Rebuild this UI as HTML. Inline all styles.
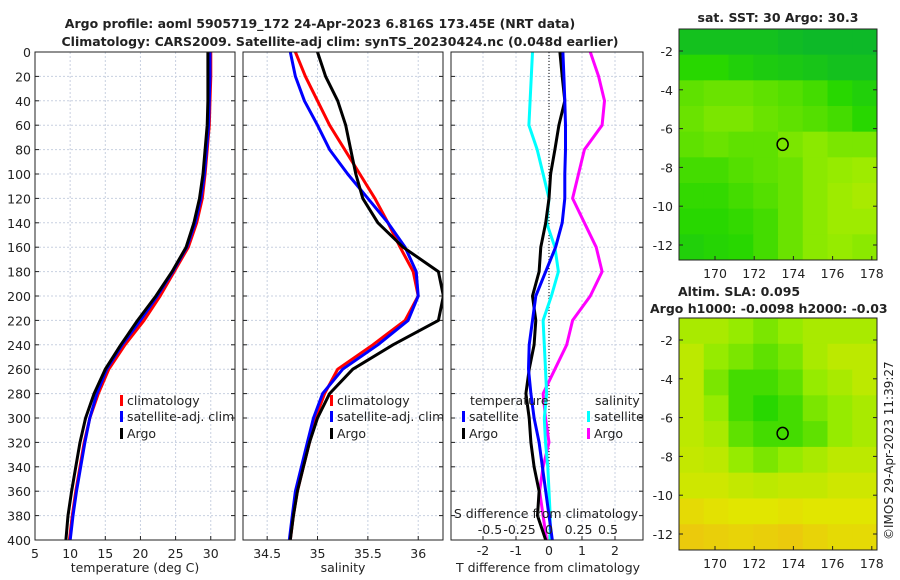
<!DOCTYPE html>
<html><head><meta charset="utf-8"><style>
body{margin:0;background:#fff;}
svg{display:block;font-family:"DejaVu Sans","Liberation Sans",sans-serif;}
</style></head><body>
<svg id="c" width="900" height="580" xmlns="http://www.w3.org/2000/svg"></svg>
<script>
const depths=[0,20,40,60,80,100,120,140,160,180,200,220,240,260,280,300,320,340,360,380,400];
const tempClim=[30,30,29.9,29.8,29.5,29.2,28.8,28,26.8,24.8,22.8,20.5,17.8,15.5,14,12.8,12,11.4,10.8,10.3,9.9];
const tempSat=[29.9,29.9,29.8,29.7,29.4,29.1,28.6,27.8,26.6,24.6,22.4,20,17.4,15.2,13.8,12.8,12.1,11.5,10.9,10.4,10];
const tempArgo=[29.6,29.6,29.6,29.5,29.2,28.9,28.4,27.6,26.5,24.5,22.2,19.6,17.2,15,13.4,12.2,11.4,10.8,10.2,9.7,9.4];
const salClim=[34.78,34.88,35.0,35.12,35.27,35.42,35.57,35.7,35.82,35.95,36.0,35.87,35.55,35.2,35.07,34.98,34.92,34.86,34.8,34.76,34.73];
const salSat=[34.73,34.78,34.87,35.0,35.12,35.3,35.5,35.7,35.87,35.98,36.0,35.9,35.6,35.25,35.05,34.96,34.9,34.84,34.78,34.75,34.72];
const salArgo=[35.0,35.08,35.2,35.28,35.33,35.38,35.45,35.6,35.85,36.2,36.25,36.2,35.75,35.35,35.12,35.0,34.92,34.86,34.8,34.76,34.73];
const tDiffSat=[0.42,0.45,0.48,0.5,0.5,0.48,0.48,0.4,0.2,-0.1,-0.4,-0.5,-0.6,-0.62,-0.55,-0.45,-0.3,-0.2,-0.1,0,0.1];
const tDiffArgo=[0.33,0.4,0.48,0.3,0.18,0.05,0,-0.1,-0.25,-0.3,-0.5,-0.4,-0.45,-0.6,-0.7,-0.6,-0.55,-0.45,-0.3,-0.35,-0.1];
const sDiffSat=[-0.14,-0.15,-0.16,-0.17,-0.1,-0.05,0,-0.02,0.05,0.08,0.02,-0.05,-0.04,-0.03,-0.02,-0.04,-0.03,-0.01,0,0.01,0.01];
const sDiffArgo=[0.35,0.42,0.47,0.45,0.3,0.25,0.2,0.3,0.4,0.45,0.35,0.2,0.15,0.05,-0.05,-0.03,0,-0.05,-0.08,-0.05,-0.02];
const sstGrid=[[0.15,0.15,0.15,0.15,0.12,0.1,0.1,0.1],[0.3,0.3,0.25,0.22,0.2,0.18,0.15,0.15],[0.4,0.42,0.42,0.4,0.38,0.35,0.3,0.25],[0.42,0.45,0.45,0.42,0.4,0.38,0.35,0.3],[0.4,0.42,0.4,0.4,0.45,0.48,0.45,0.45],[0.35,0.35,0.38,0.4,0.42,0.48,0.5,0.52],[0.32,0.32,0.35,0.38,0.42,0.48,0.52,0.55],[0.3,0.3,0.32,0.35,0.42,0.48,0.52,0.52],[0.25,0.28,0.3,0.35,0.42,0.48,0.5,0.48]];
const slaGrid=[[0.55,0.55,0.5,0.45,0.5,0.55,0.55,0.55],[0.6,0.5,0.45,0.4,0.45,0.55,0.6,0.6],[0.6,0.45,0.35,0.35,0.4,0.5,0.55,0.6],[0.6,0.5,0.35,0.3,0.35,0.45,0.5,0.55],[0.6,0.55,0.4,0.35,0.35,0.4,0.5,0.55],[0.62,0.6,0.5,0.45,0.5,0.55,0.6,0.6],[0.65,0.65,0.62,0.6,0.62,0.62,0.65,0.65],[0.75,0.72,0.7,0.7,0.72,0.7,0.7,0.7],[0.82,0.8,0.78,0.8,0.82,0.78,0.75,0.75]];
const tTicks=[5,10,15,20,25,30];
const sTicks=[34.5,35,35.5,36];
const tdTicks=[-2,-1,0,1,2];
const sdTicks=[-0.5,-0.25,0,0.25,0.5];
const sdLabels=["-0.5","-0.25","0","0.25","0.5"];
const dTicks=[0,20,40,60,80,100,120,140,160,180,200,220,240,260,280,300,320,340,360,380,400];
const latTicks=[-2,-4,-6,-8,-10,-12];
const lonTicks=[170,172,174,176,178];
const argoPos=[173.45,-6.816];

const S=document.getElementById('c');const NS='http://www.w3.org/2000/svg';
function el(t,a,p){const e=document.createElementNS(NS,t);for(const k in a)e.setAttribute(k,a[k]);(p||S).appendChild(e);return e;}
function txt(x,y,s,a,p){const e=el('text',Object.assign({x:x,y:y,'font-size':12.5,fill:'#222'},a||{}),p);e.textContent=s;return e;}
const Y0=52,Y1=540;const yD=d=>Y0+(d/400)*(Y1-Y0);
const xT=t=>35+(t-5)*7.03;
const xS=s=>243+(s-34.26)*100.7;
const xTD=v=>549+v*33;
const xSD=v=>549+v*118;
function panel(name){const g=el('g',{});return g;}
function grid(g,x0,x1,xs){
 dTicks.forEach(d=>{el('line',{x1:x0,x2:x1,y1:yD(d),y2:yD(d),stroke:'#c8d0e0','stroke-dasharray':'2,2','stroke-width':1},g);
  el('line',{x1:x0,x2:x0+4,y1:yD(d),y2:yD(d),stroke:'#222'},g);el('line',{x1:x1-4,x2:x1,y1:yD(d),y2:yD(d),stroke:'#222'},g);});
 xs.forEach(x=>{el('line',{x1:x,x2:x,y1:Y0,y2:Y1,stroke:'#c8d0e0','stroke-dasharray':'2,2'},g);el('line',{x1:x,x2:x,y1:Y1-4,y2:Y1,stroke:'#222'},g);});
}
function line(g,xs,fx,color,name){
 const pts=xs.map((v,i)=>fx(v).toFixed(1)+','+yD(depths[i]).toFixed(1)).join(' ');
 const p=el('polyline',{points:pts,fill:'none',stroke:color,'stroke-width':3,'stroke-linejoin':'round'},g);
 }
function clip(id,x0,x1){const c=el('clipPath',{id:id});el('rect',{x:x0,y:Y0,width:x1-x0,height:Y1-Y0},c);}
function frame(g,x0,x1){el('rect',{x:x0,y:Y0,width:x1-x0,height:Y1-Y0,fill:'none',stroke:'#222'},g);}
function legItem(g,x,y,c,s,n){el('rect',{x:x,y:y-10,width:3,height:11,fill:c},g);const t=txt(x+7,y,s,{},g);}
let t1=txt(320,28,'Argo profile: aoml 5905719_172 24-Apr-2023 6.816S 173.45E (NRT data)',{'font-weight':'bold','text-anchor':'middle','font-size':12.5});
let t2=txt(340,46,'Climatology: CARS2009. Satellite-adj clim: synTS_20230424.nc (0.048d earlier)',{'font-weight':'bold','text-anchor':'middle','font-size':12.5});
// panel 1
let g1=panel('temperature-panel');clip('c1',35,235);
grid(g1,35,235,tTicks.map(xT));
dTicks.forEach(d=>{const t=txt(31,yD(d)+5,String(d),{'text-anchor':'end'});});
tTicks.forEach(v=>txt(xT(v),558,String(v),{'text-anchor':'middle'}));
let c1=el('g',{'clip-path':'url(#c1)'},g1);
line(c1,tempClim,xT,'#f00','temp-climatology-line');line(c1,tempSat,xT,'#00f','temp-satellite-line');line(c1,tempArgo,xT,'#000','temp-argo-line');
frame(g1,35,235);txt(135,572,'temperature (deg C)',{'text-anchor':'middle'});
let l1=panel('temp-legend');
legItem(l1,120,405,'#f00','climatology','legend-climatology');legItem(l1,120,421,'#00f','satellite-adj. clim','legend-satellite');legItem(l1,120,438,'#000','Argo','legend-argo');
// panel 2
let g2=panel('salinity-panel');clip('c2',243,443);
grid(g2,243,443,sTicks.map(xS));
sTicks.forEach(v=>txt(xS(v),558,String(v),{'text-anchor':'middle'}));
let c2=el('g',{'clip-path':'url(#c2)'},g2);
line(c2,salClim,xS,'#f00','sal-climatology-line');line(c2,salSat,xS,'#00f','sal-satellite-line');line(c2,salArgo,xS,'#000','sal-argo-line');
frame(g2,243,443);txt(343,572,'salinity',{'text-anchor':'middle'});
let l2=panel('sal-legend');
legItem(l2,330,405,'#f00','climatology','legend-climatology');legItem(l2,330,421,'#00f','satellite-adj. clim','legend-satellite');legItem(l2,330,438,'#000','Argo','legend-argo');
// panel 3
let g3=panel('difference-panel');clip('c3',451,643);
grid(g3,451,643,tdTicks.map(xTD));
tdTicks.forEach(v=>txt(xTD(v),555,String(v),{'text-anchor':'middle'}));
let c3=el('g',{'clip-path':'url(#c3)'},g3);
el('line',{x1:549,x2:549,y1:Y0,y2:Y1,stroke:'#000','stroke-dasharray':'1,2'},c3);
line(c3,sDiffArgo,xSD,'#f0f','sdiff-argo-line');line(c3,sDiffSat,xSD,'#0ff','sdiff-satellite-line');
line(c3,tDiffArgo,xTD,'#000','tdiff-argo-line');line(c3,tDiffSat,xTD,'#00f','tdiff-satellite-line');
frame(g3,451,643);txt(548,572,'T difference from climatology',{'text-anchor':'middle'});
txt(546,518,'S difference from climatology',{'text-anchor':'middle'});
sdTicks.forEach((v,i)=>txt(xSD(v),534,sdLabels[i],{'text-anchor':'middle'}));
let l3=panel('diff-legend');
txt(470,405,'temperature',{},l3);
legItem(l3,462,421,'#00f','satellite','legend-t-satellite');legItem(l3,462,438,'#000','Argo','legend-t-argo');
txt(595,405,'salinity',{},l3);
legItem(l3,587,421,'#0ff','satellite','legend-s-satellite');legItem(l3,587,438,'#f0f','Argo','legend-s-argo');
// maps
const stops=[[0,[0,170,60]],[0.3,[40,215,0]],[0.5,[150,235,0]],[0.7,[225,230,0]],[1,[250,160,30]]];
function cmap(v){for(let i=1;i<stops.length;i++){if(v<=stops[i][0]){const a=stops[i-1],b=stops[i];const f=(v-a[0])/(b[0]-a[0]);return 'rgb('+a[1].map((c,j)=>Math.round(c+(b[1][j]-c)*f)).join(',')+')';}}return 'rgb(250,160,30)';}
function map(name,x0,y0,x1,y1,latRef,gridv){
 const g=panel(name);
 const lonX=lo=>715+(lo-170)*19.6;const latY=la=>latRef+(-2-la)*19.4;
 const rows=gridv.length,cols=gridv[0].length;const cw=(x1-x0)/cols,ch=(y1-y0)/rows;
 gridv.forEach((r,i)=>r.forEach((v,j)=>{const c=el('rect',{x:x0+j*cw,y:y0+i*ch,width:cw+0.5,height:ch+0.5,fill:cmap(v)},g);}));
 el('rect',{x:x0,y:y0,width:x1-x0,height:y1-y0,fill:'none',stroke:'#222'},g);
 latTicks.forEach(la=>{el('line',{x1:x0,x2:x0+4,y1:latY(la),y2:latY(la),stroke:'#222'},g);el('line',{x1:x1-4,x2:x1,y1:latY(la),y2:latY(la),stroke:'#222'},g);txt(x0-6,latY(la)+5,String(la),{'text-anchor':'end'},g);});
 lonTicks.forEach(lo=>{el('line',{x1:lonX(lo),x2:lonX(lo),y1:y1-4,y2:y1,stroke:'#222'},g);txt(lonX(lo),y1+18,String(lo),{'text-anchor':'middle'},g);});
 const m=el('ellipse',{cx:lonX(argoPos[0]),cy:latY(argoPos[1]),rx:5.5,ry:6,fill:'none',stroke:'#000','stroke-width':1.5},g);
 return g;}
map('sst-map',679,29,877,260,51,sstGrid);
txt(778,22,'sat. SST: 30 Argo: 30.3',{'font-weight':'bold','text-anchor':'middle'});
map('sla-map',679,318,877,550,340,slaGrid);
txt(678,296,'Altim. SLA: 0.095',{'font-weight':'bold'});
txt(650,313,'Argo h1000: -0.0098 h2000: -0.03',{'font-weight':'bold'});
txt(0,0,'©IMOS 29-Apr-2023 11:39:27',{'font-size':12,transform:'translate(893,540) rotate(-90)'});
</script>
</body></html>
